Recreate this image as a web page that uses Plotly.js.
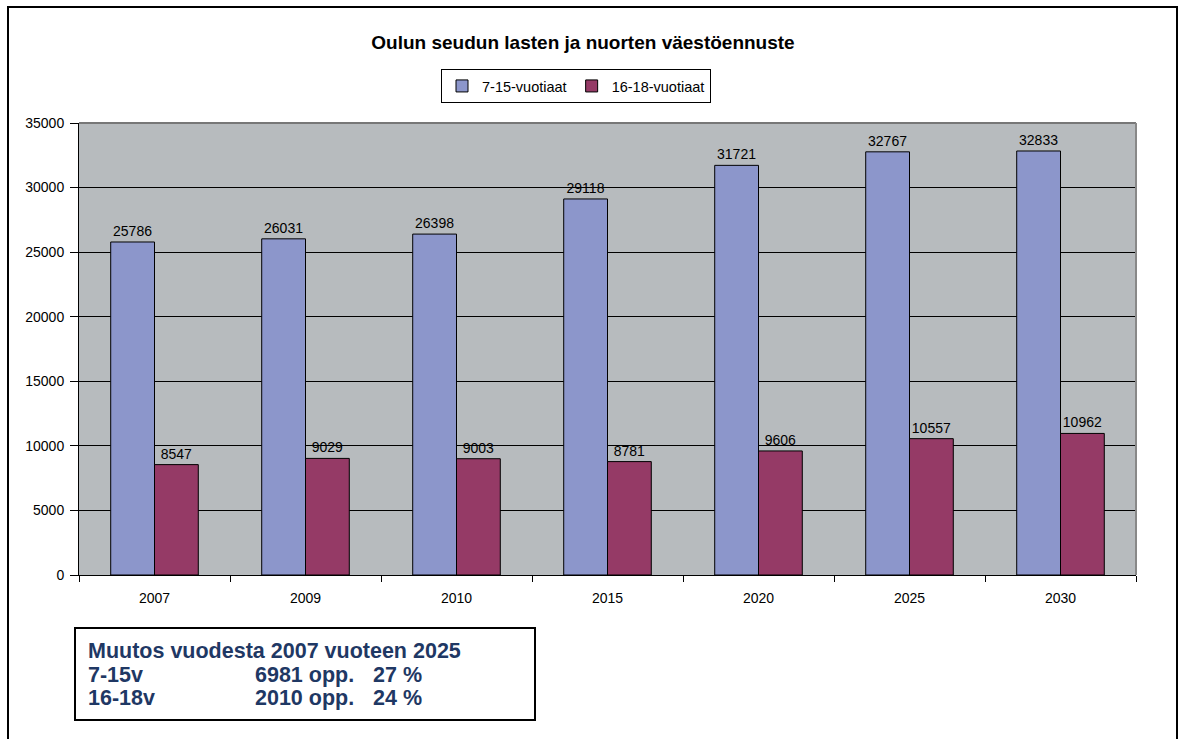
<!DOCTYPE html>
<html>
<head>
<meta charset="utf-8">
<script src="https://cdn.plot.ly/plotly-3.0.1.min.js"></script>
<style>
html,body{margin:0;padding:0;background:#fff;}
#chart{width:1180px;height:739px;}
</style>
</head>
<body>
<div id="chart"></div>
<script>
const years = ["2007","2009","2010","2015","2020","2025","2030"];
const ages7to15 = [25786, 26031, 26398, 29118, 31721, 32767, 32833];
const ages16to18 = [8547, 9029, 9003, 8781, 9606, 10557, 10962];
const seriesNames = ["7-15-vuotiaat", "16-18-vuotiaat"];
const chartTitle = "Oulun seudun lasten ja nuorten väestöennuste";
const boxLines = [
  ["Muutos vuodesta 2007 vuoteen 2025", "", ""],
  ["7-15v", "6981 opp.", "27 %"],
  ["16-18v", "2010 opp.", "24 %"]
];

const L = 79, R = 1136, T = 123, B = 575;
const W = 1180, H = 739;
const px = x => (x - L) / (R - L);
const py = y => (B - y) / (B - T);
const FF = 'Liberation Sans, Arial, sans-serif';

const traces = [
  {type:'bar', x:years, y:ages7to15, name:seriesNames[0],
   marker:{color:'#8C96CB', line:{color:'#000', width:1}},
   text:ages7to15.map(String), textposition:'outside', cliponaxis:false,
   textfont:{family:FF, size:14, color:'#000'}},
  {type:'bar', x:years, y:ages16to18, name:seriesNames[1],
   marker:{color:'#953A66', line:{color:'#000', width:1}},
   text:ages16to18.map(String), textposition:'outside', cliponaxis:false,
   textfont:{family:FF, size:14, color:'#000'}}
];

const annotations = [];
const fontBox = {family:FF, size:21.5, color:'#1F3864'};
const rowsY = [651, 675, 698];
const colsX = [86, 253, 371];
boxLines.forEach((row, i) => {
  row.forEach((t, j) => {
    if (!t) return;
    annotations.push({xref:'paper', yref:'paper', x:px(colsX[j]), y:py(rowsY[i]),
      xanchor:'left', yanchor:'middle', showarrow:false,
      text:'<b>'+t+'</b>', font:fontBox});
  });
});

const layout = {
  width:W, height:H,
  margin:{l:L, r:W-R, t:T, b:H-B, pad:0},
  paper_bgcolor:'#fff', plot_bgcolor:'#B7BBBE',
  font:{family:FF, size:14, color:'#000'},
  title:{text:'<b>'+chartTitle+'</b>', x:px(583), xref:'paper', xanchor:'center', y:1-(42/H), yanchor:'middle',
         font:{family:FF, size:19, color:'#000'}},
  barmode:'group', bargap:0.42, bargroupgap:0,
  showlegend:true,
  legend:{orientation:'h', x:px(576), xanchor:'center', y:py(86), yanchor:'middle',
          bordercolor:'#000', borderwidth:1, bgcolor:'#fff',
          font:{family:FF, size:14.5, color:'#000'},
          itemwidth:30, traceorder:'normal'},
  xaxis:{type:'category', tickson:'boundaries', ticks:'outside', ticklen:6, tickcolor:'#000',
         showline:true, linecolor:'#000', linewidth:1, showgrid:false,
         tickfont:{family:FF, size:14}, ticklabelstandoff:10, fixedrange:true},
  yaxis:{range:[0,35000], dtick:5000, tickformat:'d', ticks:'outside', ticklen:8, tickcolor:'#000',
         showline:true, linecolor:'#000', linewidth:1, showgrid:true, gridcolor:'#000', gridwidth:1,
         zeroline:false, tickfont:{family:FF, size:14}, ticklabelstandoff:3, fixedrange:true},
  shapes:[
    {type:'rect', xref:'paper', yref:'paper', x0:px(8), x1:px(1177), y0:py(745), y1:py(7),
     line:{color:'#000', width:2}, fillcolor:'rgba(0,0,0,0)', layer:'above'},
    {type:'rect', xref:'paper', yref:'paper', x0:px(75), x1:px(535), y0:py(720), y1:py(628),
     line:{color:'#000', width:2}, fillcolor:'#fff'},
    {type:'line', xref:'paper', yref:'paper', x0:0, x1:1, y0:1, y1:1, line:{color:'#777', width:2}},
    {type:'line', xref:'paper', yref:'paper', x0:1, x1:1, y0:0, y1:1, line:{color:'#888', width:2}}
  ],
  annotations:annotations
};

Plotly.newPlot('chart', traces, layout, {displayModeBar:false, staticPlot:true});
</script>
</body>
</html>
